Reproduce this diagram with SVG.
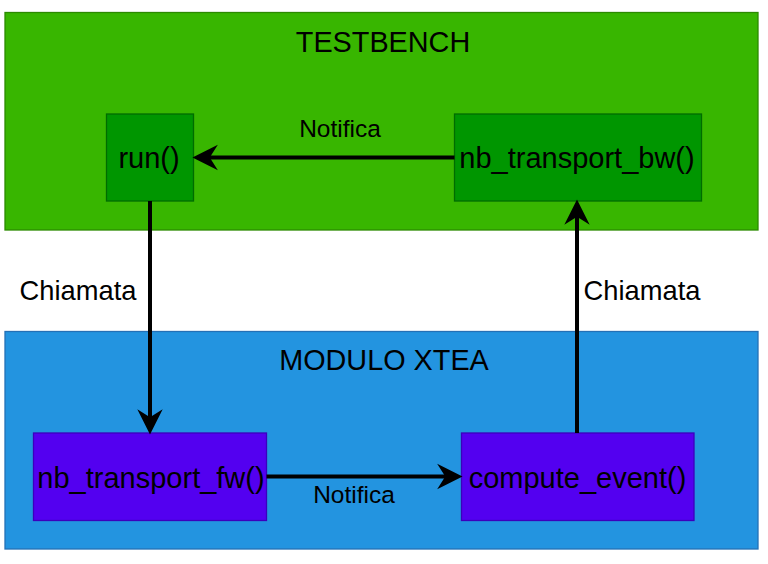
<svg xmlns="http://www.w3.org/2000/svg" width="768" height="564" viewBox="0 0 768 564">
<defs>
<style>
text{font-family:"Liberation Sans",Arial,sans-serif;fill:#000}
.cont{stroke-width:1.3}
.tb{fill:#38B600;stroke:#2C8A00}
.mx{fill:#2394E0;stroke:#2470B6}
.gn{fill:#009600;stroke:#006C00;stroke-width:1.3}
.pu{fill:#5300F0;stroke:#3C00BC;stroke-width:1.3}
.title{font-size:28.8px;text-anchor:middle}
.node{font-size:29px;text-anchor:middle}
.lbl{font-size:24.5px;text-anchor:middle}
.lblc{font-size:27.3px;text-anchor:middle}
.edge{fill:none;stroke:#000;stroke-width:4}
</style>
<marker id="arr" markerUnits="userSpaceOnUse" markerWidth="30" markerHeight="30" viewBox="-24 -12 26 24" refX="-10" refY="0" orient="auto">
<path d="M0,0 L-22,-11 L-15,0 L-22,11 Z" fill="#000"/>
</marker>
</defs>
<rect width="768" height="564" fill="#fff"/>
<g id="testbench">
<rect class="tb cont" x="5" y="12.5" width="753" height="217.5"/>
<text class="title" x="383" y="51.5">TESTBENCH</text>
</g>
<g id="modulo-xtea">
<rect class="mx cont" x="5" y="331.5" width="753" height="217.5"/>
<text class="title" x="384" y="370">MODULO XTEA</text>
</g>
<g id="run">
<rect class="gn" x="106.5" y="114" width="87" height="87"/>
<text class="node" x="149" y="168">run()</text>
</g>
<g id="nb-transport-bw">
<rect class="gn" x="454.5" y="114" width="247" height="87"/>
<text class="node" x="577" y="168">nb_transport_bw()</text>
</g>
<g id="nb-transport-fw">
<rect class="pu" x="33.5" y="433" width="233" height="87.5"/>
<text class="node" x="151" y="487.5">nb_transport_fw()</text>
</g>
<g id="compute-event">
<rect class="pu" x="461.5" y="433" width="232.5" height="87.5"/>
<text class="node" x="577.5" y="487.5">compute_event()</text>
</g>
<g id="connectors">
<path class="edge" d="M454.5,157.5 H204" marker-end="url(#arr)"/>
<text class="lbl" x="340" y="137">Notifica</text>
<path class="edge" d="M150,201 V423" marker-end="url(#arr)"/>
<text class="lblc" x="78" y="299.5">Chiamata</text>
<path class="edge" d="M266.5,476.5 H451" marker-end="url(#arr)"/>
<text class="lbl" x="354" y="503">Notifica</text>
<path class="edge" d="M577,433 V211" marker-end="url(#arr)"/>
<text class="lblc" x="642" y="299.5">Chiamata</text>
</g>
</svg>
